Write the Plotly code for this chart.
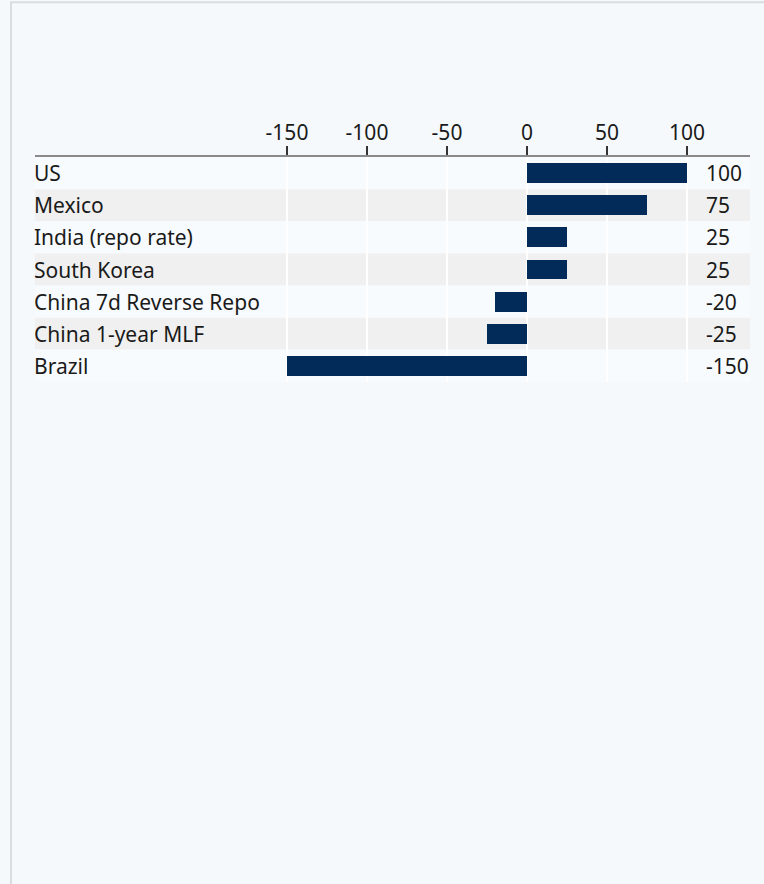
import plotly.graph_objects as go

categories = ["US", "Mexico", "India (repo rate)", "South Korea",
              "China 7d Reverse Repo", "China 1-year MLF", "Brazil"]
values = [100, 75, 25, 25, -20, -25, -150]
tick_vals = [-150, -100, -50, 0, 50, 100]
tick_text = ["-150", "-100", "-50", "0", "50", "100"]

W, H = 764, 884
PLOT_L, PLOT_R = 35, 750
ZERO_PX, PX_PER_UNIT = 527, 1.6
ROW_TOP, ROW_H = 158, 32

x_lo = (PLOT_L - ZERO_PX) / PX_PER_UNIT
x_hi = (PLOT_R - ZERO_PX) / PX_PER_UNIT
n = len(categories)
plot_bottom = ROW_TOP + n * ROW_H

BG = "#f5f9fc"
BAR = "#032b5a"
FONT = "Noto Sans, sans-serif"
FS = 21

ypos = list(range(n))

fig = go.Figure()
fig.add_trace(go.Bar(
    x=values, y=ypos, orientation="h",
    marker=dict(color=BAR, line=dict(width=0)),
    width=0.62, hoverinfo="skip", showlegend=False,
))

def px_x(p):
    return (p - PLOT_L) / (PLOT_R - PLOT_L)

def px_y(p):
    return (plot_bottom - p) / (n * ROW_H)

shapes = []
for i in ypos:
    shapes.append(dict(
        type="rect", xref="paper", yref="y", x0=0, x1=1,
        y0=i - 0.5, y1=i + 0.5, layer="below", line=dict(width=0),
        fillcolor="#f0f0f0" if i % 2 == 1 else "#f8fbfd",
    ))
# container border (left and top)
shapes.append(dict(type="line", xref="paper", yref="paper",
                   x0=px_x(11), x1=px_x(11), y0=px_y(890), y1=px_y(4),
                   line=dict(color="#dadde0", width=2)))
shapes.append(dict(type="line", xref="paper", yref="paper",
                   x0=px_x(10), x1=px_x(770), y0=px_y(4), y1=px_y(4),
                   line=dict(color="#dadde0", width=2)))

annotations = []
label_x = (706 - ZERO_PX) / PX_PER_UNIT
for i, (c, v) in enumerate(zip(categories, values)):
    annotations.append(dict(
        x=px_x(34), xref="paper", y=i, yref="y", text=c, showarrow=False,
        xanchor="left", yanchor="middle", borderpad=0, borderwidth=0,
        font=dict(family=FONT, size=FS, color="#1a1a1a"),
    ))
    annotations.append(dict(
        x=label_x, xref="x", y=i, yref="y", text=str(v), showarrow=False,
        xanchor="left", yanchor="middle", borderpad=0, borderwidth=0,
        font=dict(family=FONT, size=FS, color="#1a1a1a"),
    ))

fig.update_layout(
    width=W, height=H,
    margin=dict(l=PLOT_L, r=W - PLOT_R, t=ROW_TOP - 1, b=H - plot_bottom, pad=0),
    paper_bgcolor=BG, plot_bgcolor=BG,
    bargap=0,
    shapes=shapes, annotations=annotations,
    xaxis=dict(
        range=[x_lo, x_hi], side="top", tickvals=tick_vals, ticktext=tick_text,
        showline=True, linecolor="#8a8a8a", linewidth=2,
        ticks="outside", ticklen=9, tickwidth=2, tickcolor="#333333",
        ticklabelstandoff=-2,
        showgrid=True, gridcolor="#ffffff", gridwidth=1.5,
        zeroline=False, fixedrange=True,
        tickfont=dict(family=FONT, size=FS, color="#1a1a1a"),
    ),
    yaxis=dict(
        range=[n - 0.5, -0.5], showticklabels=False, showgrid=False,
        zeroline=False, showline=False, fixedrange=True,
    ),
)

fig.write_html(
    "out.html",
    config={"displayModeBar": False},
    post_script="document.body.style.margin='0';document.body.style.background='%s';" % BG,
)
